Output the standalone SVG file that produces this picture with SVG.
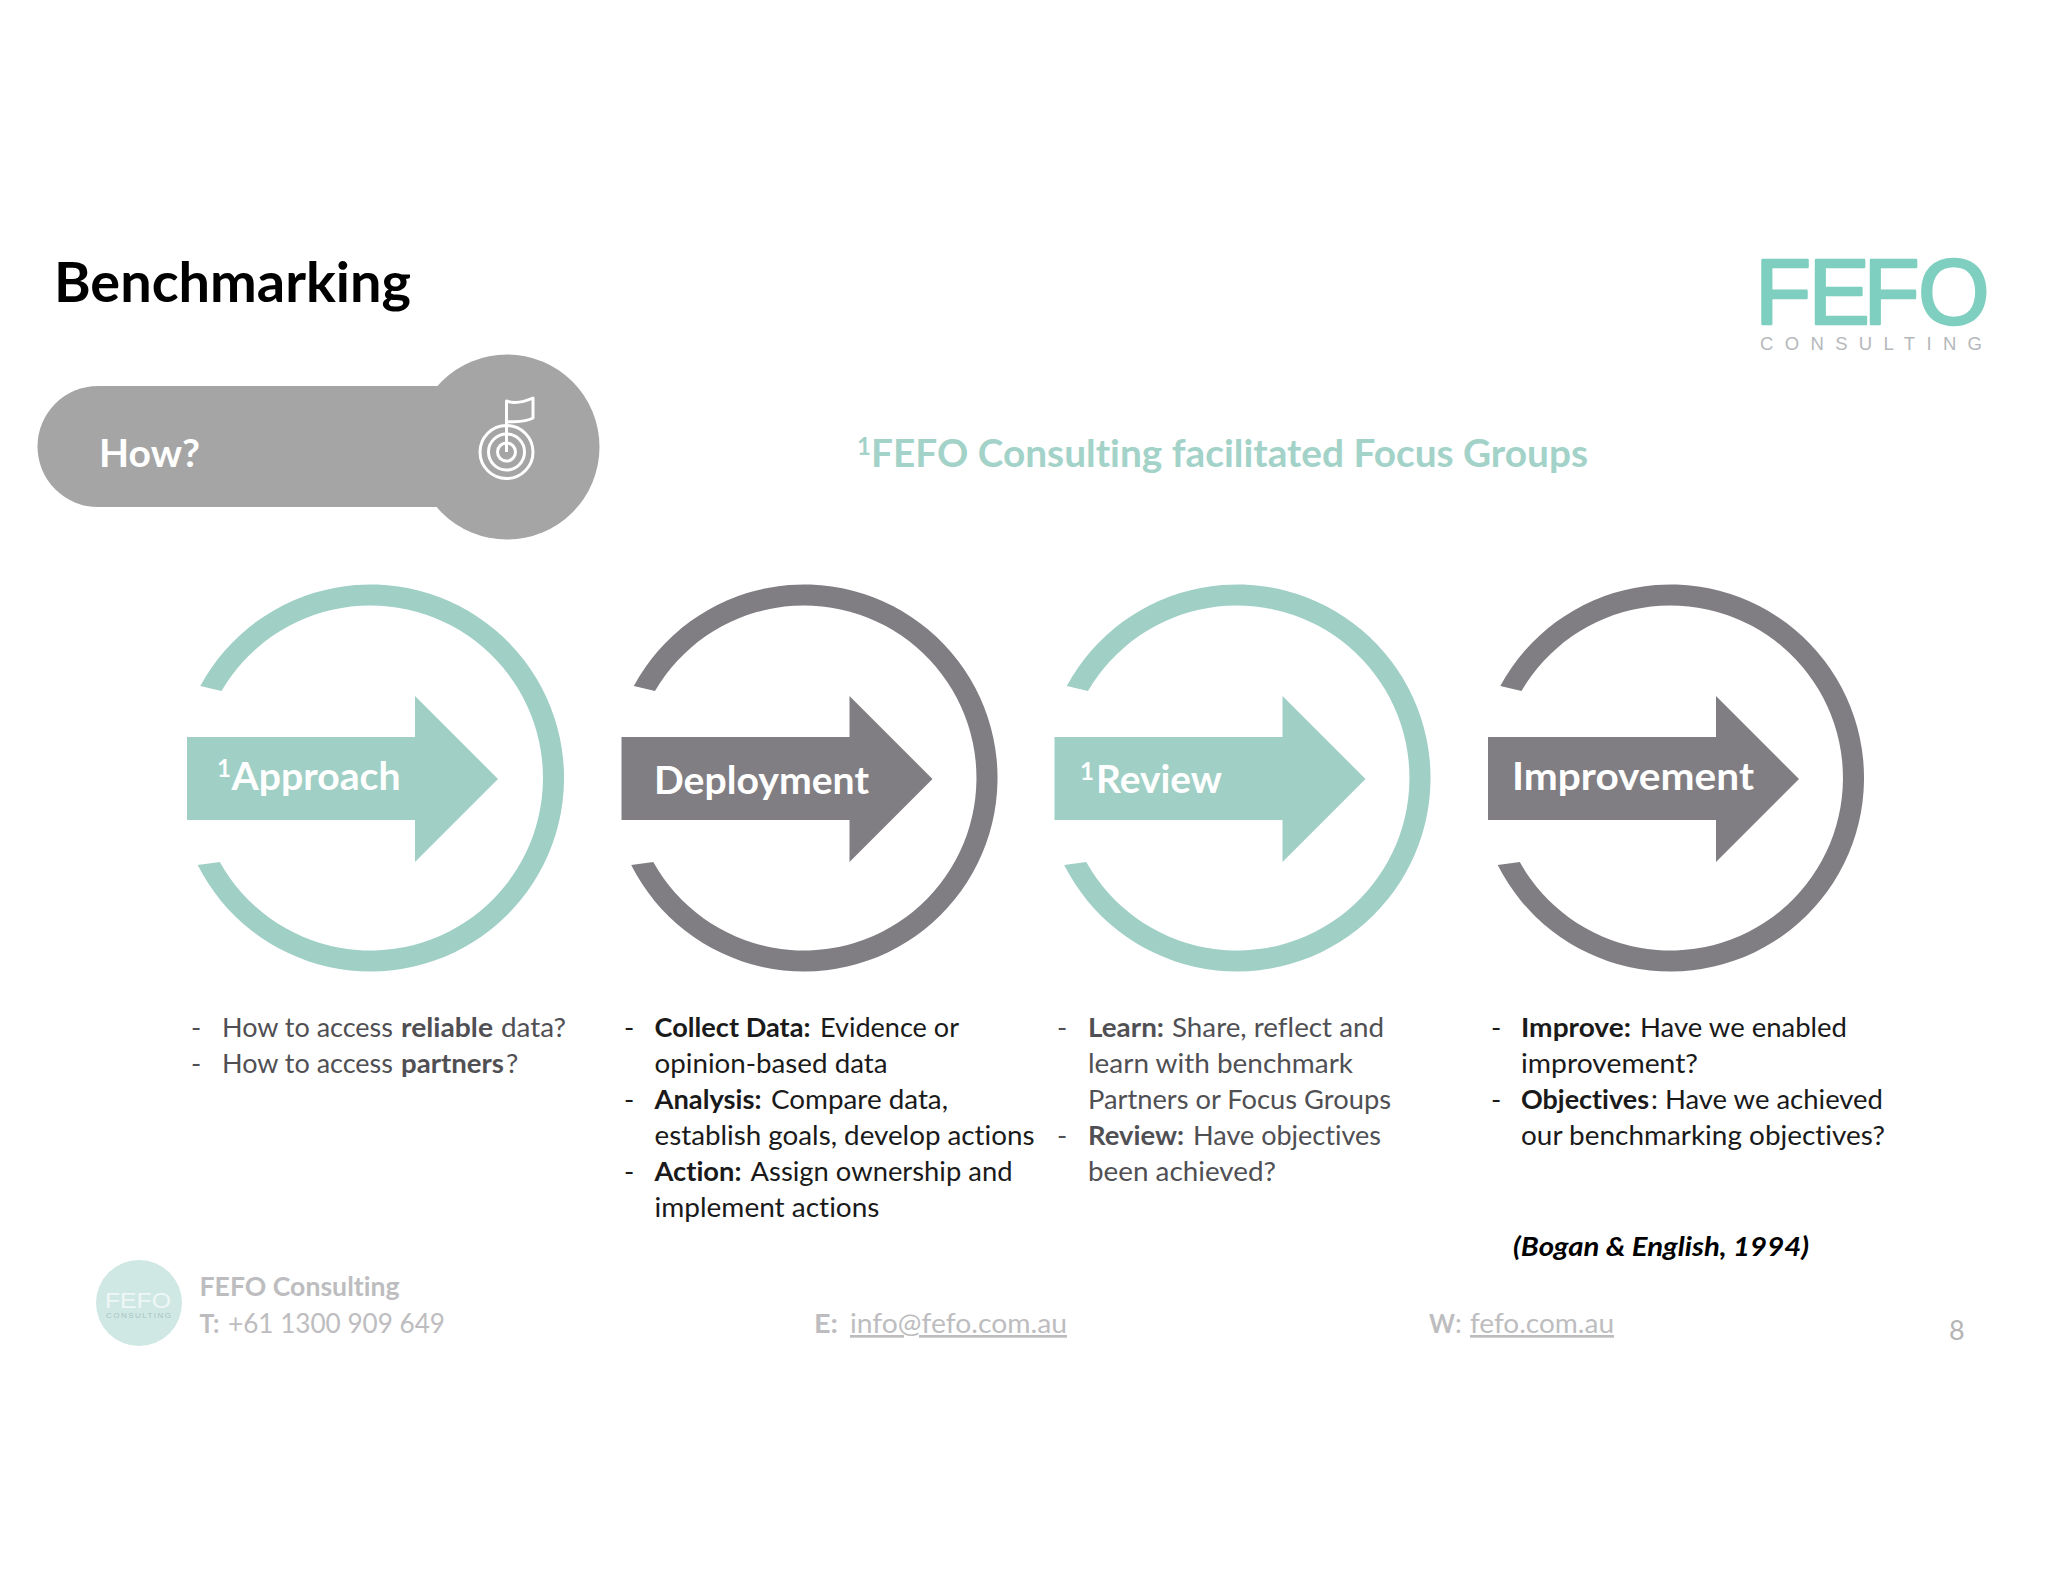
<svg xmlns="http://www.w3.org/2000/svg" width="2048" height="1582" viewBox="0 0 2048 1582">
<style>
text{font-family:Lato,"Open Sans",sans-serif;white-space:pre;font-variant-ligatures:none}
.b{font-size:27.5px;fill:#1a1a1a}
.g{font-size:27.5px;fill:#505054}
.s{font-weight:700}
.foot{font-size:27px;fill:#bdbdc0}
.lab{font-size:39px;font-weight:700;fill:#fff}
.sup{font-size:24px;font-weight:700;fill:#fff}
.teal{fill:#9fcfc5}
.grey{fill:#807e82}
</style>
<defs>
<path id="ring" d="M-170.200 686A193.500 193.500 0 1 1-172.800 865L-150.700 862A172.500 172.500 0 1 0-149 691Z"/>
<path id="arr" d="M-183.500 737H44.500V696L127.500 779L44.500 862V820H-183.500Z"/>
</defs>
<rect width="2048" height="1582" fill="#fff"/>
<g id="title"><text x="54" y="302" font-size="56" font-weight="700" fill="#000" textLength="357" lengthAdjust="spacingAndGlyphs">Benchmarking</text></g>
<g id="logo">
<text x="1755 1808.500 1863.500 1918" y="324" style="font-family:'Liberation Sans',sans-serif" font-size="92" fill="#7fcfc0" stroke="#7fcfc0" stroke-width="2.500" stroke-linejoin="round">FEFO</text>
<text x="1760" y="350" style="font-family:'Liberation Sans',sans-serif" font-size="18.500" fill="#b5b8bb" textLength="222" lengthAdjust="spacing">CONSULTING</text>
</g>
<g id="how">
<path d="M98 386H445V507H98A60.500 60.500 0 0 1 98 386Z" fill="#a5a5a5"/>
<circle cx="507" cy="447" r="92.500" fill="#a5a5a5"/>
<text x="99" y="467" font-size="39" font-weight="700" fill="#fff" textLength="101" lengthAdjust="spacingAndGlyphs">How?</text>
<g fill="none" stroke="#fff" stroke-width="3" stroke-linejoin="round">
<circle cx="506.500" cy="452" r="26.500"/><circle cx="506.500" cy="452" r="18"/><circle cx="506.500" cy="452" r="9"/>
<path d="M506.500 452V401C515 404 524 402 533 398V418C524 423 515 421 506.500 422"/>
</g>
</g>
<g id="heading" fill="#a2d2c8" font-weight="700">
<text x="857" y="455" font-size="24" style="fill:#a2d2c8">1</text>
<text x="871" y="467" font-size="38" textLength="717" lengthAdjust="spacingAndGlyphs">FEFO Consulting facilitated Focus Groups</text>
</g>
<g id="approach">
<use href="#ring" x="370.500" class="teal"/><use href="#arr" x="370.500" class="teal"/>
<text x="217" y="777" class="sup">1</text>
<text x="231.500" y="790" class="lab" textLength="169" lengthAdjust="spacingAndGlyphs">Approach</text>
</g>
<g id="deployment">
<use href="#ring" x="804" class="grey"/><use href="#arr" x="805" class="grey"/>
<text x="654" y="794" class="lab" textLength="215" lengthAdjust="spacingAndGlyphs">Deployment</text>
</g>
<g id="review">
<use href="#ring" x="1237" class="teal"/><use href="#arr" x="1238" class="teal"/>
<text x="1080" y="780" class="sup">1</text>
<text x="1096" y="793" class="lab" textLength="126" lengthAdjust="spacingAndGlyphs">Review</text>
</g>
<g id="improvement">
<use href="#ring" x="1670.500" class="grey"/><use href="#arr" x="1671.500" class="grey"/>
<text x="1512" y="790" class="lab" textLength="242" lengthAdjust="spacingAndGlyphs">Improvement</text>
</g>
<g id="col1">
<text class="g" x="191" y="1037">-</text>
<text class="g" x="222" y="1037" textLength="171" lengthAdjust="spacingAndGlyphs">How to access</text>
<text class="g s" x="401" y="1037" textLength="92" lengthAdjust="spacingAndGlyphs">reliable</text>
<text class="g" x="501" y="1037" textLength="65" lengthAdjust="spacingAndGlyphs">data?</text>
<text class="g" x="191" y="1073">-</text>
<text class="g" x="222" y="1073" textLength="171" lengthAdjust="spacingAndGlyphs">How to access</text>
<text class="g s" x="401" y="1073" textLength="103" lengthAdjust="spacingAndGlyphs">partners</text>
<text class="g" x="506" y="1073">?</text>
</g>
<g id="col2">
<text class="b" x="624" y="1037">-</text>
<text class="b s" x="654.500" y="1037" textLength="156" lengthAdjust="spacingAndGlyphs">Collect Data:</text>
<text class="b" x="820" y="1037" textLength="139" lengthAdjust="spacingAndGlyphs">Evidence or</text>
<text class="b" x="654.500" y="1073" textLength="233" lengthAdjust="spacingAndGlyphs">opinion-based data</text>
<text class="b" x="624" y="1109">-</text>
<text class="b s" x="654.500" y="1109" textLength="107" lengthAdjust="spacingAndGlyphs">Analysis:</text>
<text class="b" x="771" y="1109" textLength="177" lengthAdjust="spacingAndGlyphs">Compare data,</text>
<text class="b" x="654.500" y="1145" textLength="380" lengthAdjust="spacingAndGlyphs">establish goals, develop actions</text>
<text class="b" x="624" y="1181">-</text>
<text class="b s" x="654.500" y="1181" textLength="87" lengthAdjust="spacingAndGlyphs">Action:</text>
<text class="b" x="750.500" y="1181" textLength="262" lengthAdjust="spacingAndGlyphs">Assign ownership and</text>
<text class="b" x="654.500" y="1217" textLength="225" lengthAdjust="spacingAndGlyphs">implement actions</text>
</g>
<g id="col3">
<text class="g" x="1057" y="1037">-</text>
<text class="g s" x="1088" y="1037" textLength="76" lengthAdjust="spacingAndGlyphs">Learn:</text>
<text class="g" x="1172" y="1037" textLength="212" lengthAdjust="spacingAndGlyphs">Share, reflect and</text>
<text class="g" x="1088" y="1073" textLength="265" lengthAdjust="spacingAndGlyphs">learn with benchmark</text>
<text class="g" x="1088" y="1109" textLength="303" lengthAdjust="spacingAndGlyphs">Partners or Focus Groups</text>
<text class="g" x="1057" y="1145">-</text>
<text class="g s" x="1088" y="1145" textLength="96" lengthAdjust="spacingAndGlyphs">Review:</text>
<text class="g" x="1193" y="1145" textLength="188" lengthAdjust="spacingAndGlyphs">Have objectives</text>
<text class="g" x="1088" y="1181" textLength="188" lengthAdjust="spacingAndGlyphs">been achieved?</text>
</g>
<g id="col4">
<text class="b" x="1491" y="1037">-</text>
<text class="b s" x="1521" y="1037" textLength="110" lengthAdjust="spacingAndGlyphs">Improve:</text>
<text class="b" x="1640" y="1037" textLength="207" lengthAdjust="spacingAndGlyphs">Have we enabled</text>
<text class="b" x="1521" y="1073" textLength="177" lengthAdjust="spacingAndGlyphs">improvement?</text>
<text class="b" x="1491" y="1109">-</text>
<text class="b s" x="1521" y="1109" textLength="128" lengthAdjust="spacingAndGlyphs">Objectives</text>
<text class="b" x="1651" y="1109" textLength="232" lengthAdjust="spacingAndGlyphs">: Have we achieved</text>
<text class="b" x="1521" y="1145" textLength="364" lengthAdjust="spacingAndGlyphs">our benchmarking objectives?</text>
</g>
<g id="citation"><text x="1513" y="1256" font-size="27.500" font-weight="700" font-style="italic" fill="#000" textLength="296" lengthAdjust="spacingAndGlyphs">(Bogan &amp; English, 1994)</text></g>
<g id="footer">
<circle cx="139" cy="1303" r="43" fill="#cfe8e4"/>
<text x="105" y="1308" style="font-family:'Liberation Sans',sans-serif" font-size="22" fill="#eef7f5" textLength="66" lengthAdjust="spacingAndGlyphs">FEFO</text>
<text x="106" y="1318" style="font-family:'Liberation Sans',sans-serif" font-size="8" fill="#a9c4c4" textLength="65" lengthAdjust="spacing">CONSULTING</text>
<text class="foot s" x="199.500" y="1296" textLength="200" lengthAdjust="spacingAndGlyphs">FEFO Consulting</text>
<text class="foot s" x="199.500" y="1333" textLength="20" lengthAdjust="spacingAndGlyphs">T:</text>
<text class="foot" x="228" y="1333" textLength="217" lengthAdjust="spacingAndGlyphs">+61 1300 909 649</text>
<text class="foot s" x="814" y="1333" textLength="24" lengthAdjust="spacingAndGlyphs">E:</text>
<text class="foot" x="850" y="1333" textLength="217" lengthAdjust="spacingAndGlyphs" text-decoration="underline">info@fefo.com.au</text>
<text class="foot s" x="1429" y="1333" textLength="26" lengthAdjust="spacingAndGlyphs">W</text>
<text class="foot" x="1455" y="1333">:</text>
<text class="foot" x="1470" y="1333" textLength="144" lengthAdjust="spacingAndGlyphs" text-decoration="underline">fefo.com.au</text>
<text x="1949" y="1340" font-size="27" fill="#b5b5b5">8</text>
</g>
</svg>
